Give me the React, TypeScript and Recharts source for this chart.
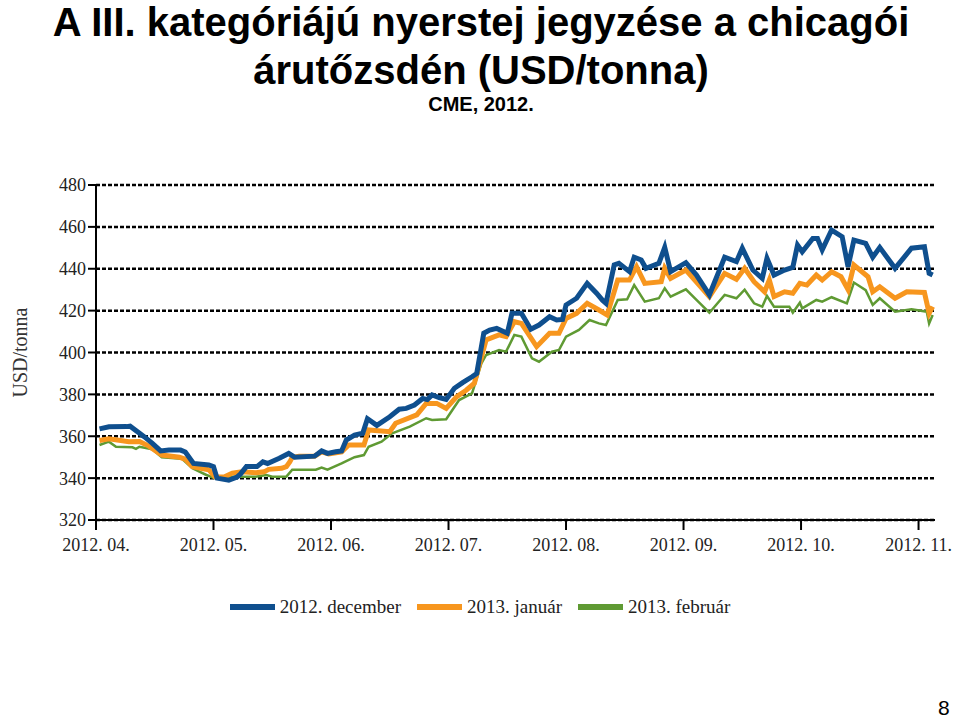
import React from 'react';
import { LineChart, Line, XAxis, YAxis, CartesianGrid } from 'recharts';

const monthLabels = ['2012. 04.', '2012. 05.', '2012. 06.', '2012. 07.', '2012. 08.', '2012. 09.', '2012. 10.', '2012. 11.'];
const monthTicks = [0, 1, 2, 3, 4, 5, 6, 7];
const yTicks = [320, 340, 360, 380, 400, 420, 440, 460, 480];
const seriesNames = ['2012. december', '2013. január', '2013. február'];

// x = months elapsed since 2012-04-01
const decT = [0.03,0.11,0.26,0.29,0.41,0.48,0.55,0.62,0.72,0.76,0.83,0.96,1.00,1.03,1.13,1.20,1.23,1.28,1.37,1.42,1.46,1.56,1.64,1.69,1.86,1.92,1.97,2.04,2.09,2.13,2.20,2.27,2.31,2.39,2.50,2.58,2.64,2.71,2.78,2.82,2.86,2.92,2.98,3.05,3.12,3.20,3.24,3.30,3.35,3.41,3.50,3.54,3.62,3.70,3.77,3.86,3.92,3.97,4.00,4.09,4.18,4.26,4.31,4.34,4.41,4.45,4.54,4.58,4.64,4.68,4.79,4.84,4.89,5.02,5.11,5.22,5.35,5.45,5.50,5.59,5.67,5.71,5.77,5.86,5.93,5.97,6.01,6.10,6.14,6.18,6.26,6.35,6.40,6.45,6.55,6.61,6.67,6.80,6.94,7.05,7.09,7.12];
const decV = [363.5,364.5,364.6,364.8,359.8,356.6,353,353.4,353.4,352.5,347,346.3,345.5,340,339,340.5,342,345.5,345.5,347.8,347,349.5,351.8,350,350.5,353,351.8,352.6,353,358.2,360.6,361.4,368.4,365.2,369.3,372.9,373.3,374.9,378,377.5,379.7,378.5,377.6,382.9,385.6,388.4,390,409.2,410.7,411.5,409.2,418.7,418.7,411.1,413.1,417.1,415.5,415.8,422.7,425.9,433,428.3,425,423.5,441.8,442.6,438.6,445.5,444.2,440.2,442.6,450.2,438.6,442.9,437,427.5,445.5,443.4,449.8,439.4,435.4,445,437,439.4,440.7,451.3,448.1,454.5,454.5,449,458.5,455.3,441,453.7,452.1,445.5,450.2,440.2,449.8,450.5,437.8,437];

const janT = [0.03,0.11,0.28,0.37,0.45,0.56,0.71,0.76,0.82,0.96,1.01,1.09,1.16,1.24,1.36,1.43,1.47,1.58,1.62,1.65,1.67,1.73,1.86,1.92,1.98,2.09,2.15,2.28,2.32,2.50,2.55,2.73,2.81,2.90,2.98,3.07,3.15,3.22,3.32,3.43,3.49,3.56,3.62,3.75,3.86,3.94,4.00,4.09,4.18,4.28,4.35,4.44,4.54,4.60,4.67,4.81,4.84,4.89,5.02,5.22,5.35,5.45,5.52,5.60,5.69,5.73,5.77,5.86,5.93,5.99,6.05,6.13,6.18,6.26,6.34,6.40,6.45,6.57,6.61,6.67,6.80,6.90,7.05,7.09,7.12];
const janV = [358,358.8,357.4,357.5,355.3,351,350,349,345.5,344,340.7,340.5,342.4,343,342.6,343,344.2,344.7,345.5,347.8,350,350.5,350.5,352.5,351.5,352.5,355.8,355.8,363,362.2,366.2,370.2,375.7,375.7,373.3,378.9,382,385.3,406,408.4,407.6,414.7,413.9,402.8,409.2,409.2,416.3,418.7,423.5,420.3,417.9,434.6,434.6,441,433,433.8,440.2,435.4,439.4,426.7,437.8,435,440.2,433.8,429,434.6,426.7,429,428.3,433,432.2,437,434.6,438.6,436.2,430,441.8,436.2,429,431.4,425.9,429,428.7,418.7,421.9];

const febT = [0.03,0.11,0.17,0.31,0.34,0.37,0.48,0.56,0.73,0.82,0.94,1.01,1.16,1.36,1.45,1.50,1.62,1.67,1.87,1.92,1.97,2.09,2.20,2.28,2.32,2.43,2.52,2.67,2.81,2.86,2.98,3.09,3.20,3.28,3.32,3.43,3.49,3.56,3.62,3.71,3.77,3.88,3.94,4.00,4.11,4.20,4.28,4.34,4.44,4.52,4.58,4.67,4.79,4.84,4.89,5.02,5.11,5.22,5.35,5.45,5.52,5.60,5.67,5.71,5.77,5.90,5.93,5.99,6.01,6.13,6.18,6.26,6.39,6.45,6.55,6.61,6.67,6.80,6.94,7.07,7.09,7.12];
const febV = [355.8,357.4,355,354.7,354,355,353.8,350,349.3,344.7,341.5,340,340.7,340.7,341.5,340.7,340.7,344,344,345,344,347,350,351,355,357.4,361.4,364.6,368.6,367.8,368.1,377.3,380.5,394.8,398.8,401.2,400.4,408.4,407.6,397.2,395.6,400.4,401.2,407.6,410.8,415.5,413.9,413.1,425.1,425.4,432.2,424.3,425.9,430.7,426.7,430.2,425.1,419,427.5,425.9,430,423.5,421.9,427,421.9,421.9,419,423.8,421.1,425.1,424.3,426.4,423.5,433.4,429.8,422.7,425.9,419.5,420.6,419.5,413.9,417.9];

const toData = (t: number[], v: number[]) => t.map((x, i) => ({ t: x, v: v[i] }));
const decData = toData(decT, decV);
const janData = toData(janT, janV);
const febData = toData(febT, febV);

const BLUE = '#0f4f8e';
const ORANGE = '#f7961e';
const GREEN = '#5f9a33';

const legendItems = [
  { name: seriesNames[0], color: BLUE },
  { name: seriesNames[1], color: ORANGE },
  { name: seriesNames[2], color: GREEN },
];

const serif = '"Liberation Serif", "Times New Roman", serif';
const sans = "'Liberation Sans', Arial, sans-serif";

export default function App() {
  return (
    <div style={{ position: 'absolute', left: 0, top: 0, width: 960, height: 723, background: '#fff', overflow: 'hidden' }}>
      <svg width={960} height={130} style={{ position: 'absolute', left: 0, top: 0 }}>
        <text x={481} y={36} textAnchor="middle" fontFamily={sans} fontWeight="bold" fontSize={40} fill="#000">
          A III. kategóriájú nyerstej jegyzése a chicagói
        </text>
        <text x={481} y={84} textAnchor="middle" fontFamily={sans} fontWeight="bold" fontSize={40} fill="#000">
          árutőzsdén (USD/tonna)
        </text>
        <text x={481} y={111} textAnchor="middle" fontFamily={sans} fontWeight="bold" fontSize={20} fill="#000">
          CME, 2012.
        </text>
      </svg>
      <div style={{ position: 'absolute', left: 0, top: 0 }}>
        <LineChart width={960} height={723} margin={{ top: 185, right: 25, bottom: 173, left: 36 }}>
          <CartesianGrid horizontal vertical={false} stroke="#000" strokeWidth={2.5} strokeDasharray="4 2" />
          <XAxis
            dataKey="t"
            type="number"
            domain={[0, 7.14]}
            ticks={monthTicks}
            tickFormatter={(v: number) => monthLabels[v]}
            axisLine={{ stroke: '#000', strokeWidth: 2 }}
            tickLine={{ stroke: '#000', strokeWidth: 2 }}
            tickSize={10}
            height={30}
            tick={{ fill: '#222', fontSize: 18, fontFamily: serif, dy: 6 }}
            allowDuplicatedCategory={false}
          />
          <YAxis
            type="number"
            domain={[320, 480]}
            ticks={yTicks}
            width={60}
            axisLine={{ stroke: '#000', strokeWidth: 2 }}
            tickLine={{ stroke: '#000', strokeWidth: 2 }}
            tickSize={8}
            tick={{ fill: '#222', fontSize: 18, fontFamily: serif }}
            label={{ value: 'USD/tonna', angle: -90, position: 'insideLeft', offset: 0, dx: -16, style: { fill: '#333', fontSize: 20, fontFamily: serif, textAnchor: 'middle' } }}
          />
          <Line data={febData} dataKey="v" name={seriesNames[2]} type="linear" stroke={GREEN} strokeWidth={2.5} dot={false} isAnimationActive={false} />
          <Line data={janData} dataKey="v" name={seriesNames[1]} type="linear" stroke={ORANGE} strokeWidth={5} dot={false} isAnimationActive={false} />
          <Line data={decData} dataKey="v" name={seriesNames[0]} type="linear" stroke={BLUE} strokeWidth={5} dot={false} isAnimationActive={false} />
        </LineChart>
      </div>
      <div style={{ position: 'absolute', top: 596, left: 0, width: 960, display: 'flex', justifyContent: 'center', alignItems: 'center', fontFamily: serif, fontSize: 19, color: '#222' }}>
        {legendItems.map((it) => (
          <div key={it.name} style={{ display: 'flex', alignItems: 'center', margin: '0 8px' }}>
            <div style={{ width: 45, height: 6, background: it.color, marginRight: 5 }} />
            <span>{it.name}</span>
          </div>
        ))}
      </div>
      <div style={{ position: 'absolute', left: 938, top: 696, fontFamily: sans, fontSize: 21, lineHeight: '24px', color: '#000' }}>8</div>
    </div>
  );
}
